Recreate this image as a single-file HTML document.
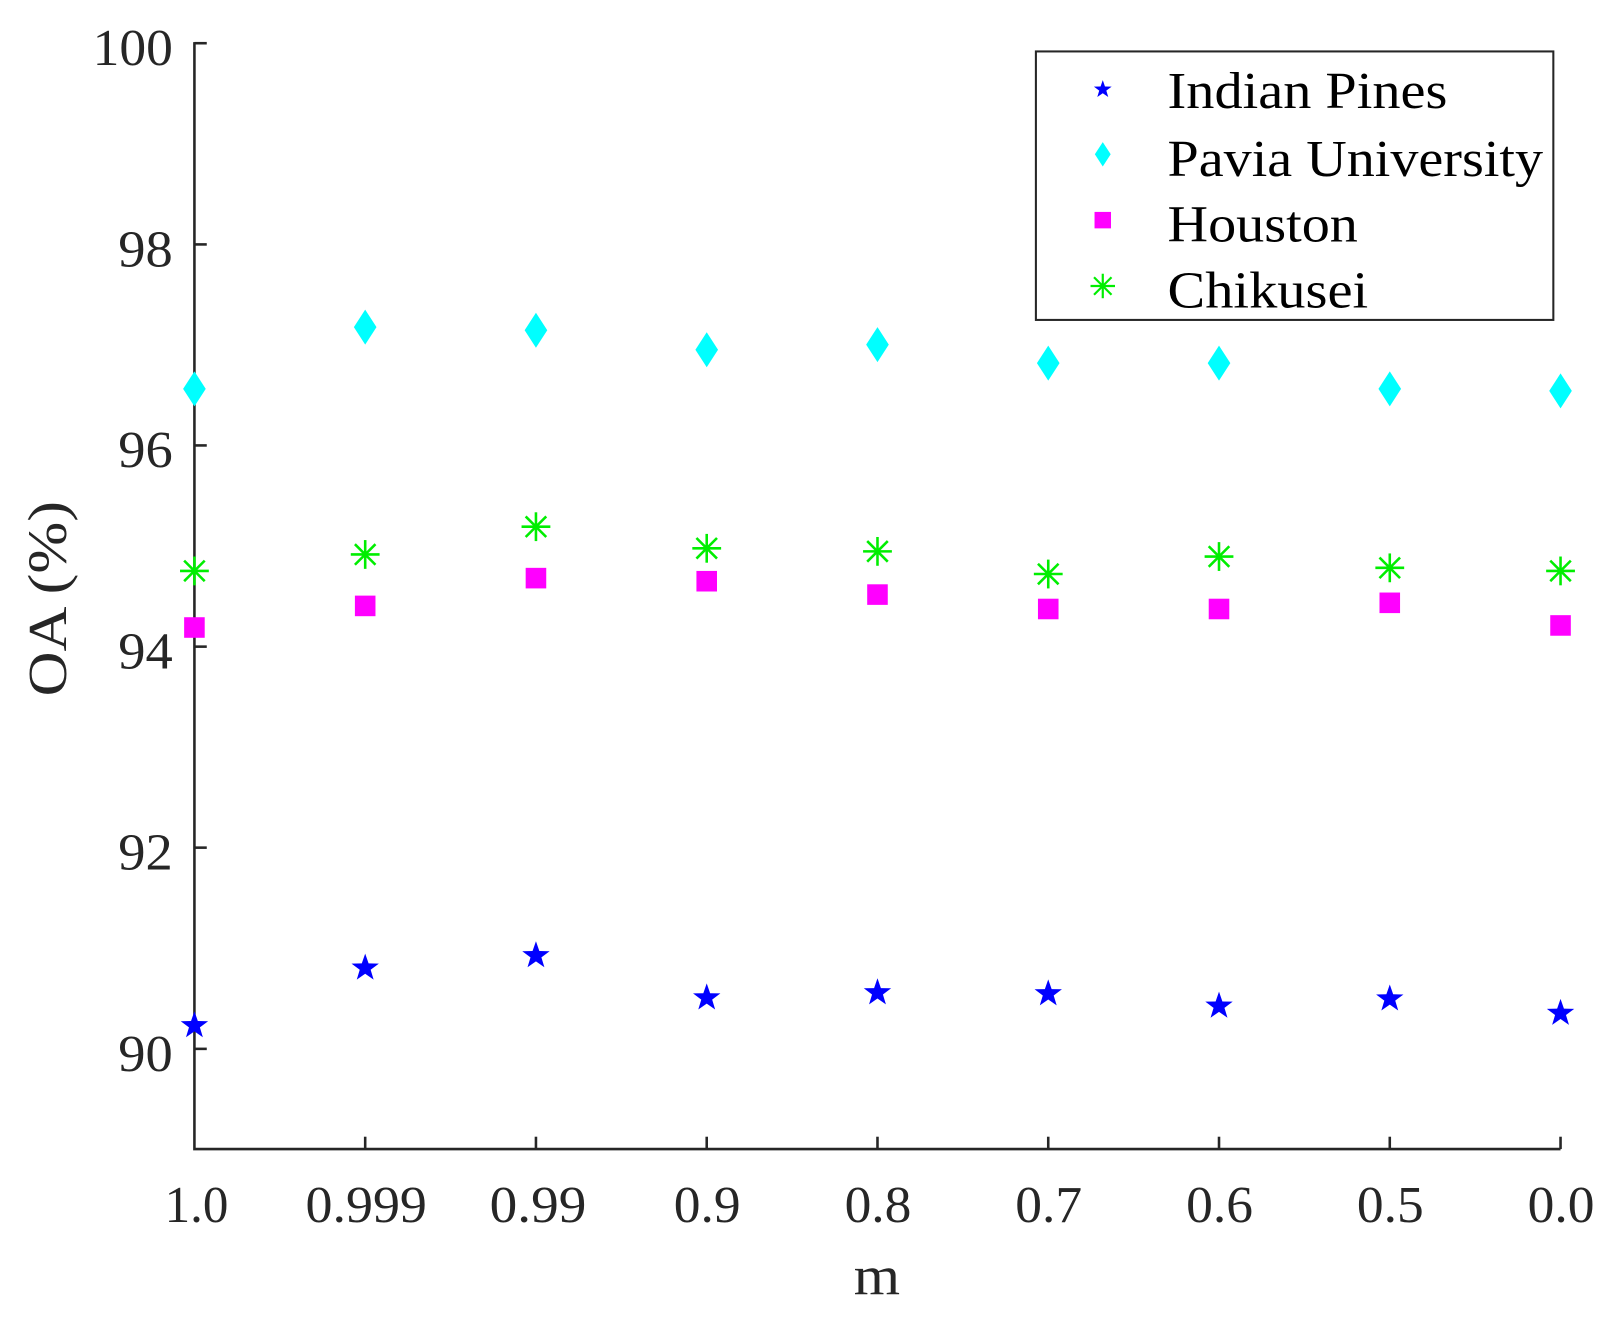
<!DOCTYPE html>
<html><head><style>html,body{margin:0;padding:0;background:#fff}svg{display:block}</style></head>
<body>
<svg width="1612" height="1326" viewBox="0 0 1612 1326" xmlns="http://www.w3.org/2000/svg">
<defs>
<polygon id="star" points="0,-14 3.3,-4.5 13.3,-4.3 5.3,1.7 8.2,11.3 0,5.6 -8.2,11.3 -5.3,1.7 -13.3,-4.3 -3.3,-4.5" fill="#0000ff"/>
<polygon id="dia" points="0,-17 11,0 0,17 -11,0" fill="#00ffff"/>
<rect id="sq" x="-10" y="-10" width="20" height="20" fill="#ff00ff"/>
<g id="ast" stroke="#00ee00" stroke-width="2.5"><line x1="0" y1="-14" x2="0" y2="14"/><line x1="-14" y1="0" x2="14" y2="0"/><line x1="-10" y1="-10" x2="10" y2="10"/><line x1="-10" y1="10" x2="10" y2="-10"/></g>
</defs>
<g transform="scale(1.0287)" font-family="Liberation Serif, serif" fill="#262626">
<path d="M189,41 V1117 H1517" fill="none" stroke="#262626" stroke-width="2.5"/>
<g stroke="#262626" stroke-width="2.5">
<line x1="189" y1="42" x2="201" y2="42"/><line x1="189" y1="237.6" x2="201" y2="237.6"/><line x1="189" y1="433" x2="201" y2="433"/><line x1="189" y1="628.6" x2="201" y2="628.6"/><line x1="189" y1="824" x2="201" y2="824"/><line x1="189" y1="1019.6" x2="201" y2="1019.6"/>
<line x1="355" y1="1117" x2="355" y2="1105"/><line x1="521" y1="1117" x2="521" y2="1105"/><line x1="687" y1="1117" x2="687" y2="1105"/><line x1="853" y1="1117" x2="853" y2="1105"/><line x1="1019" y1="1117" x2="1019" y2="1105"/><line x1="1185" y1="1117" x2="1185" y2="1105"/><line x1="1351" y1="1117" x2="1351" y2="1105"/><line x1="1517" y1="1117" x2="1517" y2="1105"/>
</g>
<g font-size="50" lengthAdjust="spacingAndGlyphs">
<text x="90" y="63" textLength="78" lengthAdjust="spacingAndGlyphs">100</text>
<text x="115" y="259" textLength="53" lengthAdjust="spacingAndGlyphs">98</text>
<text x="115" y="454" textLength="53" lengthAdjust="spacingAndGlyphs">96</text>
<text x="115" y="650" textLength="53" lengthAdjust="spacingAndGlyphs">94</text>
<text x="115" y="845" textLength="53" lengthAdjust="spacingAndGlyphs">92</text>
<text x="115" y="1041" textLength="53" lengthAdjust="spacingAndGlyphs">90</text>
</g>
<g font-size="50">
<text x="160" y="1188" textLength="62" lengthAdjust="spacingAndGlyphs">1.0</text>
<text x="297" y="1188" textLength="118" lengthAdjust="spacingAndGlyphs">0.999</text>
<text x="476" y="1188" textLength="94" lengthAdjust="spacingAndGlyphs">0.99</text>
<text x="655" y="1188" textLength="65" lengthAdjust="spacingAndGlyphs">0.9</text>
<text x="821" y="1188" textLength="65" lengthAdjust="spacingAndGlyphs">0.8</text>
<text x="987" y="1188" textLength="65" lengthAdjust="spacingAndGlyphs">0.7</text>
<text x="1153" y="1188" textLength="65" lengthAdjust="spacingAndGlyphs">0.6</text>
<text x="1319" y="1188" textLength="65" lengthAdjust="spacingAndGlyphs">0.5</text>
<text x="1485" y="1188" textLength="65" lengthAdjust="spacingAndGlyphs">0.0</text>
<text x="830" y="1258" font-size="54" textLength="45" lengthAdjust="spacingAndGlyphs">m</text>
<text transform="translate(64,677) rotate(-90)" font-size="54" textLength="190" lengthAdjust="spacingAndGlyphs">OA (%)</text>
</g>
<use href="#dia" x="189" y="378"/><use href="#dia" x="355" y="318"/><use href="#dia" x="521" y="321"/><use href="#dia" x="687" y="340"/><use href="#dia" x="853" y="335"/><use href="#dia" x="1019" y="353"/><use href="#dia" x="1185" y="353"/><use href="#dia" x="1351" y="378"/><use href="#dia" x="1517" y="380"/>
<use href="#ast" x="189" y="555"/><use href="#ast" x="355" y="539"/><use href="#ast" x="521" y="512"/><use href="#ast" x="687" y="533"/><use href="#ast" x="853" y="536"/><use href="#ast" x="1019" y="558"/><use href="#ast" x="1185" y="541"/><use href="#ast" x="1351" y="552"/><use href="#ast" x="1517" y="555"/>
<use href="#sq" x="189" y="610"/><use href="#sq" x="355" y="589"/><use href="#sq" x="521" y="562"/><use href="#sq" x="687" y="565"/><use href="#sq" x="853" y="578"/><use href="#sq" x="1019" y="592"/><use href="#sq" x="1185" y="592"/><use href="#sq" x="1351" y="586"/><use href="#sq" x="1517" y="608"/>
<use href="#star" x="189" y="997"/><use href="#star" x="355" y="941"/><use href="#star" x="521" y="929"/><use href="#star" x="687" y="970"/><use href="#star" x="853" y="965"/><use href="#star" x="1019" y="966"/><use href="#star" x="1185" y="978"/><use href="#star" x="1351" y="971"/><use href="#star" x="1517" y="985"/>
<rect x="1007" y="50" width="503" height="261" fill="#fff" stroke="#262626" stroke-width="2"/>
<g transform="translate(1072,87) scale(0.65)"><use href="#star"/></g>
<g transform="translate(1072,150) scale(0.7)"><use href="#dia"/></g>
<g transform="translate(1072,214) scale(0.8)"><use href="#sq"/></g>
<g transform="translate(1072,278) scale(0.85)"><use href="#ast"/></g>
<g font-size="50" fill="#000">
<text x="1135" y="105" textLength="272" lengthAdjust="spacingAndGlyphs">Indian Pines</text>
<text x="1135" y="171" textLength="365" lengthAdjust="spacingAndGlyphs">Pavia University</text>
<text x="1135" y="235" textLength="185" lengthAdjust="spacingAndGlyphs">Houston</text>
<text x="1135" y="299" textLength="195" lengthAdjust="spacingAndGlyphs">Chikusei</text>
</g>
</g>
</svg>
</body></html>
